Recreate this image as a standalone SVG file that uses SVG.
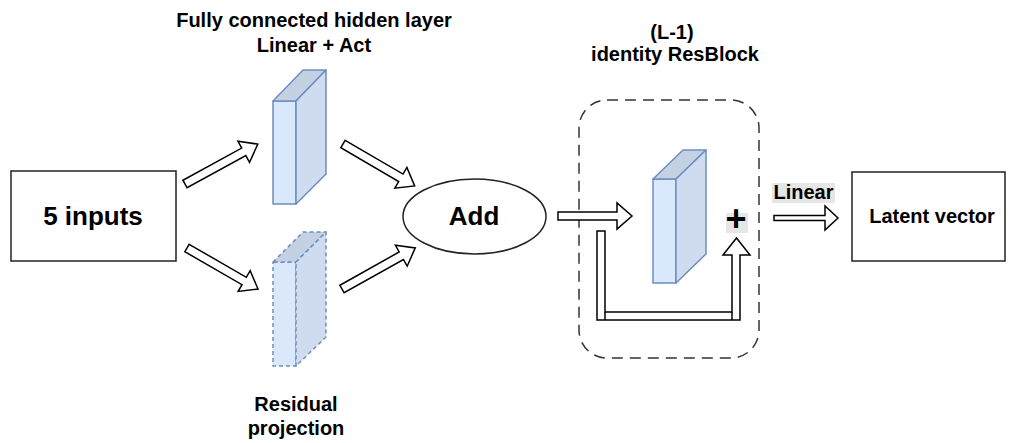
<svg xmlns="http://www.w3.org/2000/svg" width="1009" height="443" viewBox="0 0 1009 443">
<style>
  .lbl{font-family:"Liberation Sans",Arial,sans-serif;font-weight:bold;fill:#000;text-anchor:middle}
  .box{fill:#fff;stroke:#222;stroke-width:1.5}
  .front{fill:#dae8fc;stroke:#6c8ebf;stroke-width:1.5;stroke-linejoin:round}
  .side{fill:#cfdcf0;stroke:#6c8ebf;stroke-width:1.5;stroke-linejoin:round}
  .top{fill:#c4d1e3;stroke:#6c8ebf;stroke-width:1.5;stroke-linejoin:round}
  .dash{stroke-dasharray:4 3}
  .arr{fill:#fff;stroke:#000;stroke-width:1.5;stroke-linejoin:miter}
</style>
<rect width="1009" height="443" fill="#fff"/>

<g id="inputs">
  <rect class="box" x="11" y="171" width="165" height="90"/>
  <text class="lbl" x="93" y="225" font-size="26">5 inputs</text>
</g>

<g id="hidden-layer">
  <text class="lbl" x="314" y="27" font-size="20">Fully connected hidden layer</text>
  <text class="lbl" x="314" y="52" font-size="20">Linear + Act</text>
  <rect class="front" x="273" y="101" width="23" height="103"/>
  <polygon class="top" points="273,101 303,70 326,70 296,101"/>
  <polygon class="side" points="296,101 326,70 326,174 296,204"/>
</g>

<g id="residual-projection">
  <rect class="front dash" x="273" y="262" width="23" height="104"/>
  <polygon class="top dash" points="273,262 303,232 326,232 296,262"/>
  <polygon class="side dash" points="296,262 326,232 326,337 296,366"/>
  <text class="lbl" x="296" y="411" font-size="20">Residual</text>
  <text class="lbl" x="296" y="435" font-size="20">projection</text>
</g>

<g id="add">
  <ellipse class="box" cx="474.5" cy="216.5" rx="71.5" ry="37.5"/>
  <text class="lbl" x="474" y="225" font-size="26">Add</text>
</g>

<g id="resblock">
  <text class="lbl" x="672" y="39" font-size="20">(L-1)</text>
  <text class="lbl" x="675" y="61" font-size="20">identity ResBlock</text>
  <rect x="579" y="100" width="180" height="258" rx="28" ry="28" fill="none" stroke="#333" stroke-width="1.5" stroke-dasharray="11 7"/>
  <rect class="front" x="653" y="179" width="23" height="104"/>
  <polygon class="top" points="653,179 683,150 706,150 676,179"/>
  <polygon class="side" points="676,179 706,150 706,254 676,283"/>
  <rect x="726" y="213" width="22" height="20" fill="#e6e6e6"/>
  <text class="lbl" x="736" y="231" font-size="36">+</text>
</g>

<g id="latent">
  <rect class="box" x="852" y="172" width="153" height="89"/>
  <text class="lbl" x="932" y="223" font-size="20">Latent vector</text>
</g>

<g id="connectors">
  <path class="arr" transform="translate(185,184) rotate(-28.7)" d="M0,-4.3 H67 V-12 L83,0 L67,12 V4.3 H0 Z"/>
  <path class="arr" transform="translate(187,248) rotate(30)" d="M0,-4.3 H66 V-12 L82,0 L66,12 V4.3 H0 Z"/>
  <path class="arr" transform="translate(343,144) rotate(30.3)" d="M0,-4.3 H67 V-12 L83,0 L67,12 V4.3 H0 Z"/>
  <path class="arr" transform="translate(342,289) rotate(-29.3)" d="M0,-4.3 H68 V-12 L84,0 L68,12 V4.3 H0 Z"/>
  <path class="arr" d="M558,212 H617 V203 L632,216 L617,229 V220 H558 Z"/>
  <path class="arr" d="M597,231 H605 V312 H732 V255 H723 L736.5,238 L750,255 H740 V320 H597 Z"/>
  <line x1="605" y1="312" x2="605" y2="320" stroke="#000" stroke-width="1.5"/>
  <line x1="732" y1="312" x2="732" y2="320" stroke="#000" stroke-width="1.5"/>
  <rect x="772" y="183" width="63" height="20" fill="#e6e6e6"/>
  <text class="lbl" x="803.5" y="199" font-size="20">Linear</text>
  <path class="arr" d="M774,215.5 H825 V206 L838,218 L825,230 V220.5 H774 Z"/>
</g>
</svg>
